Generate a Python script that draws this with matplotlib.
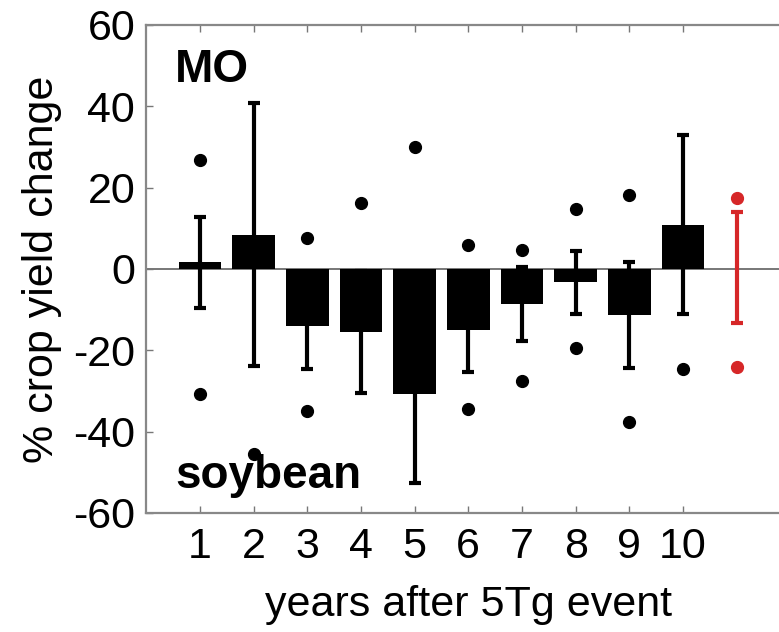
import numpy as np
from matplotlib import pyplot as plt

plt.rcParams['font.family'] = ['Liberation Sans', 'DejaVu Sans']
plt.rcParams['axes.unicode_minus'] = False

# yearly soybean yield change (%) for MO after 5Tg event
years = [1, 2, 3, 4, 5, 6, 7, 8, 9, 10]
means = [1.7, 8.4, -14.0, -15.5, -30.7, -15.0, -8.6, -3.3, -11.4, 10.9]
stds = [11.2, 32.3, 10.6, 15.0, 21.9, 10.3, 9.1, 7.8, 13.0, 22.0]
dot_hi = [26.8, np.nan, 7.6, 16.2, 30.0, 5.9, 4.7, 14.7, 18.2, np.nan]
dot_lo = [-30.7, -45.5, -34.9, np.nan, np.nan, -34.4, -27.5, -19.4, -37.6, -24.6]

# control (red) spread
ctrl_x = 11
ctrl_mean = 0.35
ctrl_std = 13.7
ctrl_hi = 17.4
ctrl_lo = -24.1

W, H = 779, 632
fig = plt.figure(figsize=(W / 100, H / 100), dpi=100)
ax = fig.add_axes([146.3 / W, (H - 513) / H, 644 / W, 488 / H])

ax.axhline(0, color='#777777', lw=1.4, zorder=1)
ax.bar(years, means, width=0.8, color='black', zorder=2)
ax.errorbar(years, means, yerr=stds, fmt='none', ecolor='black',
            elinewidth=3, capsize=4.5, capthick=3, zorder=3)
ax.plot(years, dot_hi, 'o', color='black', ms=8.5, zorder=4)
ax.plot(years, dot_lo, 'o', color='black', ms=8.5, zorder=4)

red = '#d62728'
ax.errorbar([ctrl_x], [ctrl_mean], yerr=[ctrl_std], fmt='none', ecolor=red,
            elinewidth=3, capsize=4.5, capthick=3, zorder=3)
ax.plot([ctrl_x, ctrl_x], [ctrl_hi, ctrl_lo], 'o', color=red, ms=8.5, zorder=4)

ax.set_xlim(0, 12)
ax.set_ylim(-60, 60)
ax.set_xticks(years)
ax.set_yticks([-60, -40, -20, 0, 20, 40, 60])
ax.tick_params(direction='in', length=5, width=1, color='#777777',
               labelsize=31, top=True, right=True)
ax.tick_params(axis='x', pad=10)
ax.tick_params(axis='y', pad=8)
for s in ax.spines.values():
    s.set_color('#888888')
    s.set_linewidth(1.6)

ax.set_xlabel('years after 5Tg event', fontsize=31, labelpad=13)
ax.set_ylabel('% crop yield change', fontsize=31, labelpad=8)

ax.text(0.045, 0.953, 'MO', transform=ax.transAxes, fontsize=33,
        fontweight='bold', va='top', ha='left')
ax.text(0.045, 0.03, 'soybean', transform=ax.transAxes, fontsize=33,
        fontweight='bold', va='bottom', ha='left')

fig.savefig('out.png', dpi=100)
